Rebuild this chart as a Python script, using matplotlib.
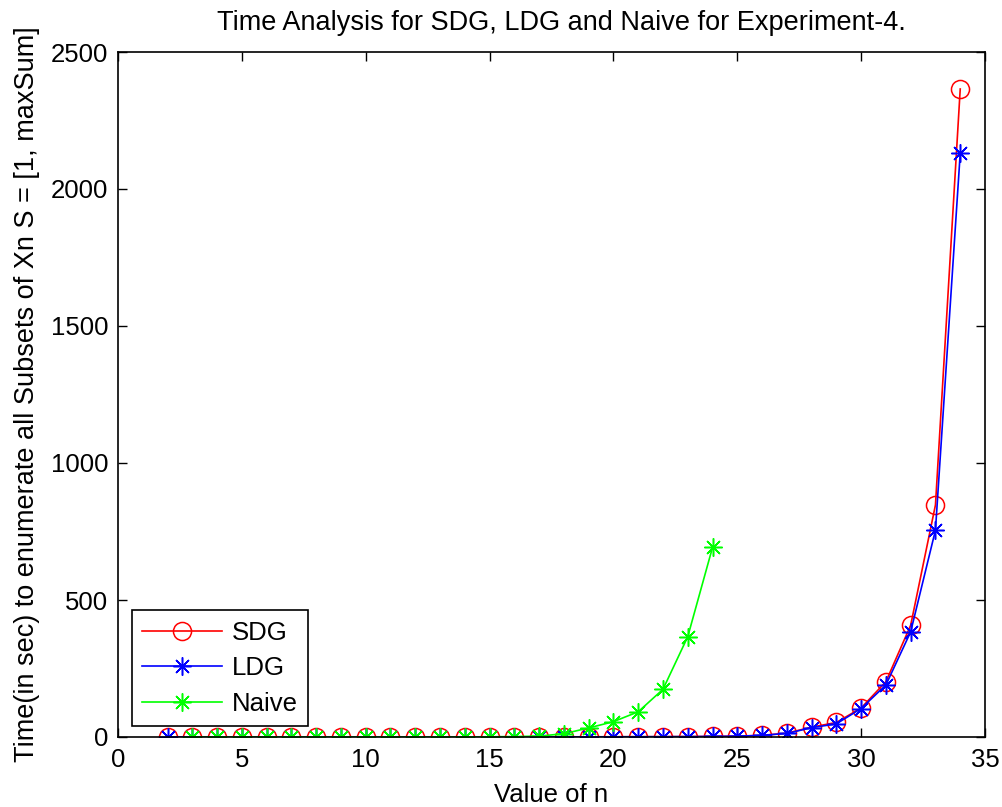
import matplotlib
matplotlib.use('Agg')
import matplotlib.pyplot as plt

plt.rcParams['font.family'] = ['Liberation Sans', 'DejaVu Sans']

n_dg = list(range(2, 35))
sdg = [0.0005, 0.001, 0.001, 0.002, 0.003, 0.005, 0.008, 0.01, 0.02, 0.03,
       0.05, 0.08, 0.1, 0.15, 0.2, 0.3, 0.4, 0.6, 0.8, 1.0, 1.2, 1.5, 2.0,
       3.0, 6.0, 14, 36, 53, 106, 202, 408, 847, 2365]
ldg = [0.0005, 0.001, 0.001, 0.002, 0.003, 0.005, 0.008, 0.01, 0.02, 0.03,
       0.05, 0.08, 0.1, 0.15, 0.2, 0.3, 0.4, 0.6, 0.8, 1.0, 1.2, 1.5, 2.0,
       3.0, 6.0, 13, 34, 48, 104, 190, 384, 755, 2131]
n_naive = list(range(3, 25))
naive = [0.0, 0.0, 0.0, 0.0, 0.0, 0.01, 0.01, 0.02, 0.05, 0.1, 0.2, 0.4,
         0.8, 1.6, 3.2, 12, 33, 56, 92, 174, 366, 692]

star = (8, 2, 0)  # MATLAB style asterisk

fig = plt.figure(figsize=(10.03, 8.07), dpi=100)
ax = fig.add_axes([118 / 1003, 1 - 737 / 807, 867 / 1003, 685 / 807])

l1, = ax.plot(n_dg, sdg, 'r-', marker='o', markersize=13, markerfacecolor='none',
              markeredgewidth=1.1, linewidth=1.2)
l2, = ax.plot(n_dg, ldg, 'b-', marker=star, markersize=13, markeredgewidth=1.1, linewidth=1.2)
l3, = ax.plot(n_naive, naive, '-', color='#00ff00', marker=star, markersize=13,
              markeredgewidth=1.1, linewidth=1.2)

ax.set_xlim(0, 35)
ax.set_ylim(0, 2500)
ax.set_xticks(range(0, 36, 5))
ax.set_yticks(range(0, 2501, 500))
ax.tick_params(direction='in', top=True, right=True, length=6.5, width=1, labelsize=18.5)
ax.tick_params(axis='x', pad=8)
ax.tick_params(axis='y', pad=7)
for s in ax.spines.values():
    s.set_linewidth(1.2)

ax.set_title('Time Analysis for SDG, LDG and Naive for Experiment-4.', fontsize=19.5, pad=16,
             x=0.512)
ax.set_xlabel('Value of n', fontsize=18.5, labelpad=8)
ax.set_ylabel('Time(in sec) to enumerate all Subsets of Xn S = [1, maxSum]', fontsize=19.5, labelpad=8)

leg = ax.legend((l1, l2, l3), ('SDG', 'LDG', 'Naive'), loc='lower left',
                bbox_to_anchor=(14 / 867, 11 / 685), borderaxespad=0, fontsize=18.5,
                fancybox=False, edgecolor='black', framealpha=1, handlelength=3.1,
                handletextpad=0.4, labelspacing=0.45, borderpad=0.4)
leg.get_frame().set_linewidth(1.2)

fig.savefig('out.png', dpi=100)
